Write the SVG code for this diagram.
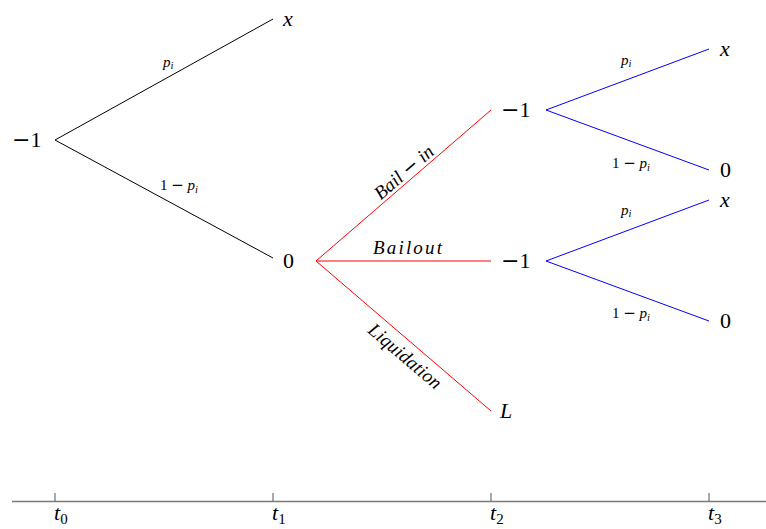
<svg xmlns="http://www.w3.org/2000/svg" width="766" height="529" viewBox="0 0 766 529">
<style>
.n{font-family:'Liberation Serif','Times New Roman',serif;font-size:22px;fill:#000}
.i{font-style:italic}
.m{font-family:'DejaVu Serif',serif}
.s{font-family:'Liberation Serif','Times New Roman',serif;font-size:15px;fill:#000}
.sub{font-size:10.5px}
.lab{font-family:'Liberation Serif','Times New Roman',serif;font-size:19px;font-style:italic;fill:#000}
.k{stroke:#000;stroke-width:1;fill:none}
.r{stroke:#ff0000;stroke-width:1;fill:none}
.b{stroke:#0000ff;stroke-width:1;fill:none}
.ax{stroke:#7a7a7a;stroke-width:1.5;fill:none}
.tk{stroke:#555;stroke-width:1;fill:none}
</style>
<rect width="766" height="529" fill="#fff"/>
<g id="connectors">
  <line class="k" x1="55" y1="140" x2="273" y2="19"/>
  <line class="k" x1="55" y1="140" x2="273" y2="258"/>
  <line class="r" x1="316" y1="261" x2="491" y2="110"/>
  <line class="r" x1="316" y1="261" x2="491" y2="261"/>
  <line class="r" x1="316" y1="261" x2="491" y2="411"/>
  <line class="b" x1="546" y1="110" x2="709" y2="49"/>
  <line class="b" x1="546" y1="110" x2="709" y2="170"/>
  <line class="b" x1="546" y1="261" x2="709" y2="200"/>
  <line class="b" x1="546" y1="261" x2="709" y2="321"/>
  <text class="s" x="163" y="66.5"><tspan class="i">p</tspan><tspan class="sub i" dy="2.5">i</tspan></text>
  <text class="s" x="160" y="190">1 <tspan class="m">−</tspan> <tspan class="i">p</tspan><tspan class="sub i" dy="2.5">i</tspan></text>
  <text class="s" x="621" y="64.5"><tspan class="i">p</tspan><tspan class="sub i" dy="2.5">i</tspan></text>
  <text class="s" x="612" y="168">1 <tspan class="m">−</tspan> <tspan class="i">p</tspan><tspan class="sub i" dy="2.5">i</tspan></text>
  <text class="s" x="621" y="214.5"><tspan class="i">p</tspan><tspan class="sub i" dy="2.5">i</tspan></text>
  <text class="s" x="612" y="318">1 <tspan class="m">−</tspan> <tspan class="i">p</tspan><tspan class="sub i" dy="2.5">i</tspan></text>
  <text class="lab" x="373" y="254" textLength="69">Bailout</text>
  <text class="lab" text-anchor="middle" transform="translate(408,177) rotate(-40.8)">Bail <tspan class="m" font-style="normal">−</tspan> in</text>
  <text class="lab" text-anchor="middle" transform="translate(401,361) rotate(40.4)" textLength="90">Liquidation</text>
</g>
<g id="n-root"><text class="n" x="12" y="147"><tspan class="m">−</tspan>1</text></g>
<g id="n-x1"><text class="n i" x="283" y="26">x</text></g>
<g id="n-zero1"><text class="n" x="283" y="268">0</text></g>
<g id="n-bailin"><text class="n" x="501" y="117"><tspan class="m">−</tspan>1</text></g>
<g id="n-bailout"><text class="n" x="501" y="268"><tspan class="m">−</tspan>1</text></g>
<g id="n-liq"><text class="n i" x="500" y="418">L</text></g>
<g id="n-x2"><text class="n i" x="720" y="56">x</text></g>
<g id="n-zero2"><text class="n" x="720" y="177">0</text></g>
<g id="n-x3"><text class="n i" x="720" y="207">x</text></g>
<g id="n-zero3"><text class="n" x="720" y="328">0</text></g>
<g id="axis">
  <line class="ax" x1="12" y1="501.5" x2="766" y2="501.5"/>
  <line class="tk" x1="55" y1="493" x2="55" y2="501"/>
  <line class="tk" x1="273" y1="493" x2="273" y2="501"/>
  <line class="tk" x1="491" y1="493" x2="491" y2="501"/>
  <line class="tk" x1="709" y1="493" x2="709" y2="501"/>
  <text class="n" x="54" y="520"><tspan class="i">t</tspan><tspan font-size="15" dy="4">0</tspan></text>
  <text class="n" x="272" y="520"><tspan class="i">t</tspan><tspan font-size="15" dy="4">1</tspan></text>
  <text class="n" x="490" y="520"><tspan class="i">t</tspan><tspan font-size="15" dy="4">2</tspan></text>
  <text class="n" x="708" y="520"><tspan class="i">t</tspan><tspan font-size="15" dy="4">3</tspan></text>
</g>
</svg>
